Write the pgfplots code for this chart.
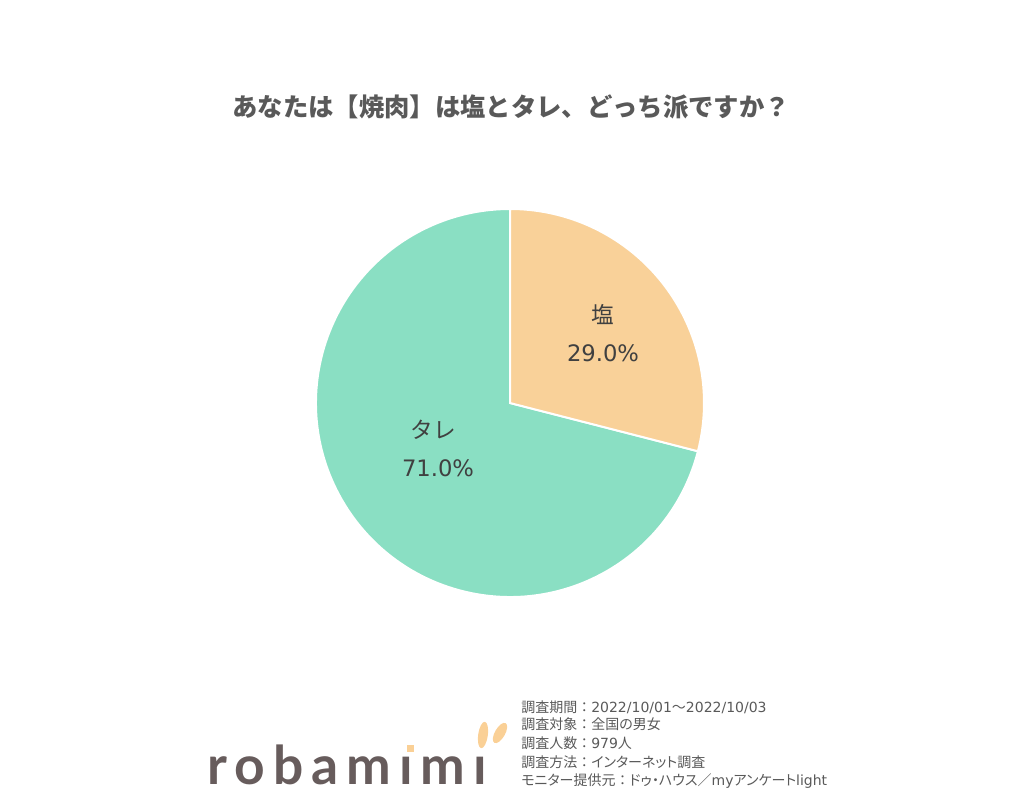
\documentclass[border=0pt]{standalone}
\usepackage{pgfplots}
\usepackage{pgfplotstable}
\pgfplotsset{compat=1.18}
\usepackage{fontspec}
\setmainfont{Noto Sans CJK JP}
\newfontfamily\latfont{DejaVu Sans}
\newfontfamily\notep[RawFeature=+palt]{Noto Sans CJK JP}
\newfontfamily\notef{Noto Sans CJK JP}
\newfontfamily\logofont[LetterSpace=15]{Lato}
\definecolor{saltc}{HTML}{F9D199}
\definecolor{tarec}{HTML}{8ADFC3}
\definecolor{titlec}{HTML}{595959}
\definecolor{labc}{HTML}{404040}
\definecolor{notec}{HTML}{595959}
\definecolor{logoc}{HTML}{675C5C}
\definecolor{earc}{HTML}{FAD096}
\newcommand\col{{\notef ：}}

% share of answers (%)
\pgfplotstableread{
label value
salt 29.0
tare 71.0
}\pietable

\begin{document}
\begin{tikzpicture}
\pgfplotstablegetelem{0}{value}\of\pietable \let\vA\pgfplotsretval
\pgfplotstablegetelem{1}{value}\of\pietable \let\vB\pgfplotsretval
\pgfmathsetmacro\aA{90-3.6*\vA}
\pgfmathsetmacro\aB{\aA-3.6*\vB}
\begin{axis}[
  x=0.75pt, y=0.75pt, scale only axis,
  xmin=0, xmax=1024, ymin=0, ymax=801,
  hide axis, clip=false,
]
\path (axis cs:0,0) rectangle (axis cs:1024,801);
% slices
\filldraw[fill=tarec, draw=white, line width=1.5pt]
  (axis cs:510,398) -- ++(\aA:145.5pt) arc[start angle=\aA, end angle=\aB, radius=145.5pt] -- cycle;
\filldraw[fill=saltc, draw=white, line width=1.5pt]
  (axis cs:510,398) -- ++(90:145.5pt) arc[start angle=90, end angle=\aA, radius=145.5pt] -- cycle;
% title
\node[font=\fontsize{19pt}{22pt}\selectfont\bfseries, text=titlec]
  at (axis cs:511,694) {あなたは【焼肉】は塩とタレ、どっち派ですか？};
% labels
\node[font=\fontsize{17pt}{20pt}\selectfont, text=labc] at (axis cs:603,486) {塩};
\node[font=\fontsize{17pt}{20pt}\selectfont\latfont, text=labc] at (axis cs:603,448)
  {\pgfmathprintnumber[assume math mode=true,fixed,fixed zerofill,precision=1]{\vA}\%};
\node[font=\fontsize{17pt}{20pt}\selectfont, text=labc] at (axis cs:433,371) {タレ};
\node[font=\fontsize{17pt}{20pt}\selectfont\latfont, text=labc] at (axis cs:438,333)
  {\pgfmathprintnumber[assume math mode=true,fixed,fixed zerofill,precision=1]{\vB}\%};
% notes
\begin{scope}[every node/.style={anchor=west, inner sep=0pt, text=notec, font=\fontsize{10.5pt}{12pt}\selectfont\notep}]
\node at (axis cs:521,94) {調査期間\col{\latfont 2022/10/01}～{\latfont 2022/10/03}};
\node at (axis cs:521,77) {調査対象\col 全国の男女};
\node at (axis cs:521,58) {調査人数\col{\latfont 979}人};
\node at (axis cs:521,39) {調査方法\col インターネット調査};
\node at (axis cs:521,20) {モニター提供元\col ドゥ・ハウス／{\latfont my}アンケート{\latfont light}};
\end{scope}
% logo
\node[anchor=base west, inner sep=0pt, text=logoc, font=\fontsize{40pt}{44pt}\selectfont\logofont\bfseries]
  at (axis cs:207,17) {robamımı};
\fill[earc] (axis cs:407,49) rectangle (axis cs:414,56);
\fill[earc, rotate around={-8:(axis cs:483,66)}] (axis cs:483,66) ellipse[x radius=3.6pt, y radius=10pt];
\fill[earc, rotate around={-30:(axis cs:500,68)}] (axis cs:500,68) ellipse[x radius=3.8pt, y radius=8.5pt];
\end{axis}
\end{tikzpicture}
\end{document}
